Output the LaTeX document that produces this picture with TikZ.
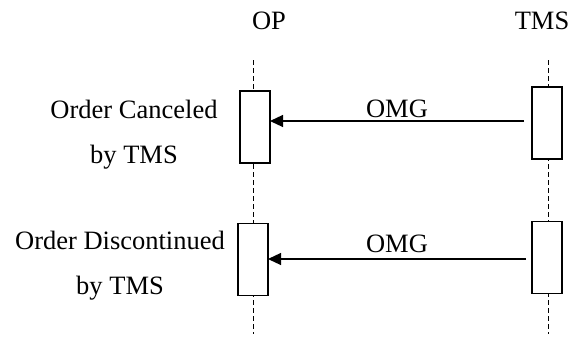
\documentclass[tikz,border=0pt]{standalone}
\usepackage{fontspec}
\setmainfont{Liberation Serif}
\usetikzlibrary{arrows.meta}
\tikzset{lifeline/.style={
    draw, thin, dash pattern=on 5pt off 3pt
  },
  activation/.style={
    rectangle, draw, fill=white, line width=1.2pt,
    minimum width=30pt, minimum height=72pt,
    inner sep=0pt, outer sep=0pt
  },
  msg/.style={
    line width=1.2pt, -{Triangle[length=13pt,width=12pt]}
  },
  msglabel/.style={
    inner sep=0pt, font=\fontsize{26.5}{30}\selectfont
  },
  actor/.style={
    inner sep=0pt, font=\fontsize{26.5}{30}\selectfont
  },
  caselabel/.style={
    align=center, inner sep=0pt, font=\fontsize{26.5}{45}\selectfont
  }
}
\begin{document}
\begin{tikzpicture}[x=1pt,y=-1pt]
    \useasboundingbox (0,0) rectangle (569,340);

    % participants
    \node[actor] (op) at (269,21) {OP};
    \node[actor] (tms) at (542,21) {TMS};

    % lifelines
    \coordinate (optop) at (253,60);
    \coordinate (opbot) at (253,334);
    \coordinate (tmstop) at (548,60);
    \coordinate (tmsbot) at (548,334);
    \draw[lifeline] (optop) -- (opbot);
    \draw[lifeline] (tmstop) -- (tmsbot);

    % activations
    \node[activation] (actopa) at (255,127) {};
    \node[activation] (acttmsa) at (547,123) {};
    \node[activation] (actopb) at (253,259.5) {};
    \node[activation] (acttmsb) at (547,257.5) {};

    % messages
    \draw[msg] ([xshift=-8pt,yshift=2pt]acttmsa.west) -- node[msglabel,above=3pt] (omga) {OMG} ([yshift=2pt]acttmsa.west -| actopa.east);
    \draw[msg] ([xshift=-6pt,yshift=-1.5pt]acttmsb.west) -- node[msglabel,above=6pt] (omgb) {OMG} ([yshift=-1.5pt]acttmsb.west -| actopb.east);

    % cases
    \node[caselabel] (casea) at (134,135) {Order Canceled\\by TMS};
    \node[caselabel] (caseb) at (120,266) {Order Discontinued\\by TMS};
\end{tikzpicture}
\end{document}
